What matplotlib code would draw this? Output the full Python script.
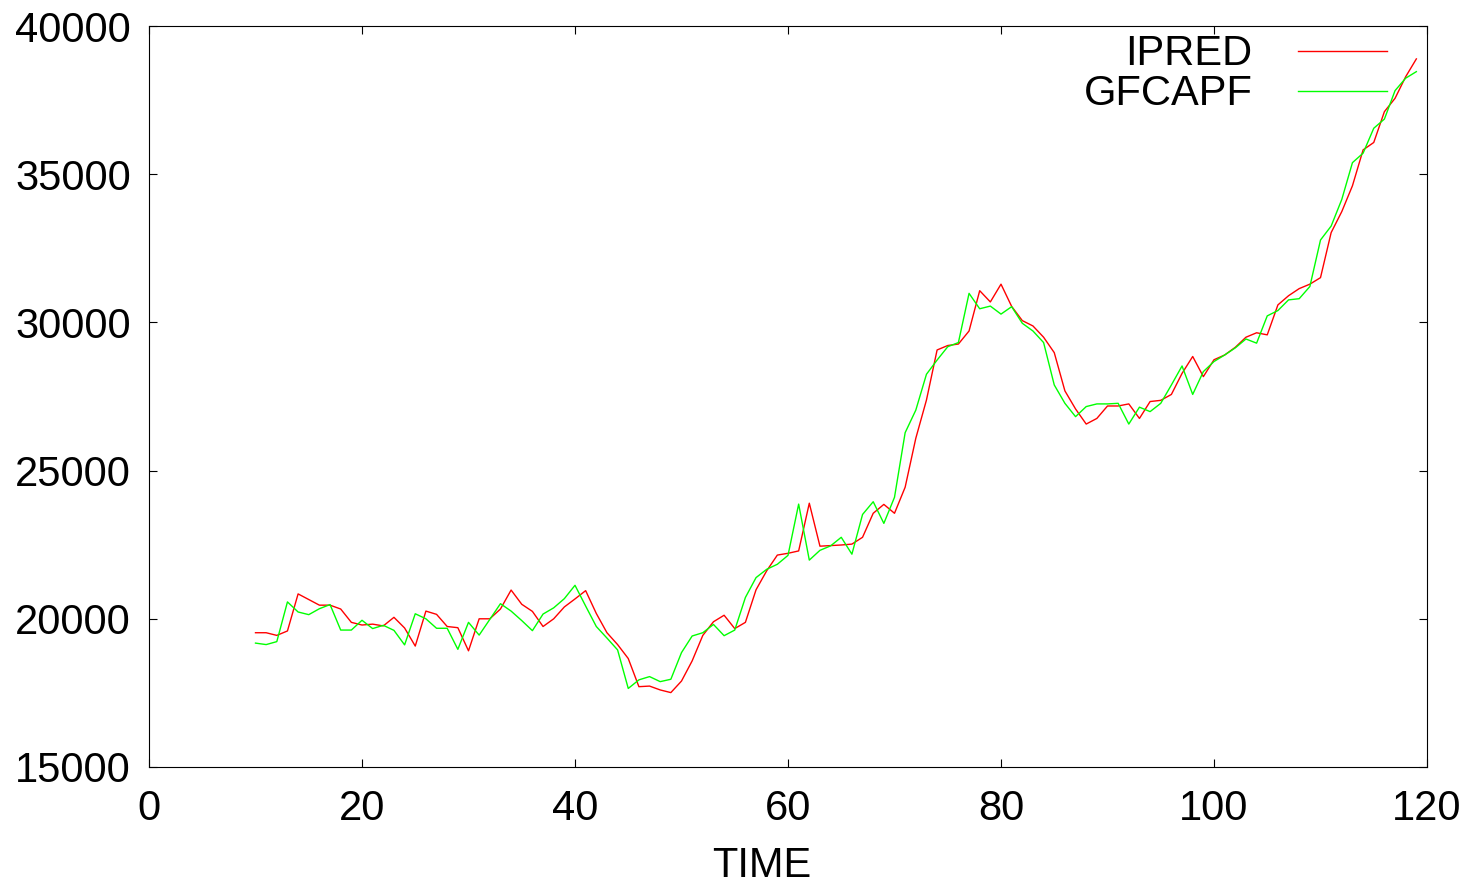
import numpy as np
import matplotlib
matplotlib.use('Agg')
import matplotlib.pyplot as plt

plt.rcParams['font.family'] = ['Liberation Sans', 'DejaVu Sans']

time = list(range(10, 120))

ipred = [19530, 19530, 19440, 19590, 20840, 20650, 20460, 20460, 20330, 19880,
         19790, 19820, 19760, 20050, 19690, 19080, 20260, 20150, 19740, 19700,
         18920, 20000, 20000, 20330, 20970, 20490, 20250, 19740, 20000, 20400,
         20670, 20950, 20180, 19530, 19130, 18660, 17710, 17730, 17600, 17510,
         17900, 18580, 19440, 19900, 20120, 19670, 19880, 20980, 21620, 22150,
         22210, 22290, 23900, 22450, 22470, 22490, 22520, 22750, 23560, 23860,
         23560, 24440, 26090, 27380, 29070, 29220, 29270, 29710, 31070, 30690,
         31290, 30540, 30060, 29880, 29500, 28980, 27690, 27080, 26570, 26760,
         27180, 27180, 27250, 26760, 27330, 27370, 27570, 28280, 28850, 28170,
         28740, 28900, 29160, 29500, 29650, 29580, 30590, 30900, 31140, 31290,
         31510, 33030, 33740, 34610, 35820, 36070, 37110, 37560, 38290, 38890]

gfcapf = [19180, 19130, 19230, 20570, 20230, 20140, 20340, 20480, 19620, 19620,
          19950, 19670, 19780, 19610, 19120, 20170, 20000, 19680, 19680, 18970,
          19880, 19450, 19980, 20510, 20260, 19940, 19600, 20160, 20370, 20680,
          21130, 20430, 19740, 19350, 18950, 17650, 17940, 18050, 17880, 17960,
          18860, 19420, 19530, 19810, 19430, 19620, 20720, 21390, 21670, 21840,
          22140, 23870, 21980, 22310, 22460, 22750, 22180, 23520, 23950, 23220,
          24100, 26280, 27040, 28250, 28730, 29180, 29320, 30980, 30460, 30550,
          30280, 30530, 29970, 29710, 29320, 27890, 27270, 26820, 27160, 27250,
          27250, 27270, 26570, 27140, 26990, 27270, 27890, 28530, 27570, 28340,
          28680, 28900, 29140, 29440, 29300, 30220, 30400, 30760, 30800, 31210,
          32780, 33250, 34150, 35390, 35710, 36550, 36860, 37820, 38240, 38460]

fig = plt.figure(figsize=(14.69, 8.84), dpi=100)
ax = fig.add_axes([149/1469, 117/884, 1278/1469, 741/884])

ax.plot(time, ipred, color='#ff0000', lw=1.0, label='IPRED')
ax.plot(time, gfcapf, color='#00ff00', lw=1.0, label='GFCAPF')

ax.set_xlim(0, 120)
ax.set_ylim(15000, 40000)
ax.set_xticks(np.arange(0, 121, 20))
ax.set_yticks(np.arange(15000, 40001, 5000))
ax.tick_params(direction='in', top=True, right=True, length=6, width=0.8, labelsize=30)
ax.tick_params(axis='x', pad=15.8)
ax.tick_params(axis='y', pad=13)
for s in ax.spines.values():
    s.set_linewidth(0.8)
ax.set_xlabel('TIME', fontsize=30, labelpad=12.5, x=0.4797)

ax.legend(loc='upper right', bbox_to_anchor=(0.9687, 0.989), borderaxespad=0,
          borderpad=0, frameon=False, fontsize=30, markerfirst=False,
          handlelength=2.13, handletextpad=1.1, labelspacing=0.0)

fig.savefig('out.png', dpi=100)
